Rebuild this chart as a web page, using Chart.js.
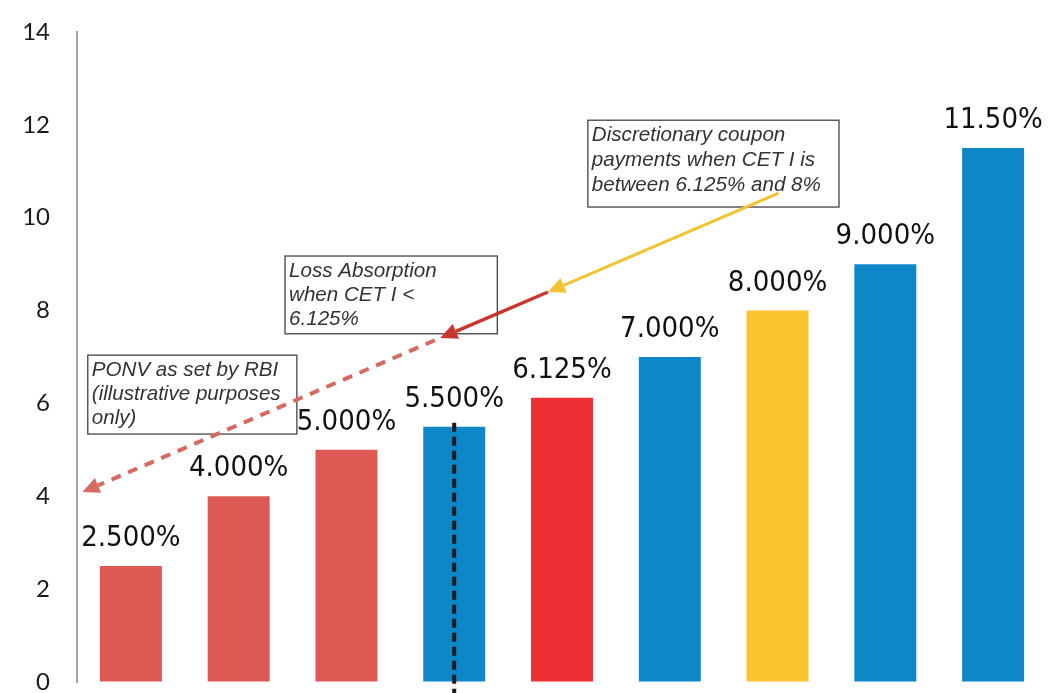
<!DOCTYPE html>
<html><head><meta charset="utf-8">
<script src="https://cdn.jsdelivr.net/npm/chart.js@4/dist/chart.umd.min.js"></script>
<style>html,body{margin:0;padding:0;background:#fff;overflow:hidden}#wrap{width:1052px;height:693px;position:relative}</style>
</head><body><div id="wrap"><canvas id="c" width="1052" height="693"></canvas></div>
<script>
// ---- data ----
const categories = ['B1','B2','B3','B4','B5','B6','B7','B8','B9'];
const values = [2.5, 4, 5, 5.5, 6.125, 7, 8, 9, 11.5];
const valueLabels = ['2.500%','4.000%','5.000%','5.500%','6.125%','7.000%','8.000%','9.000%','11.50%'];
const yTicks = [0, 2, 4, 6, 8, 10, 12, 14];
const noteTexts = [
  ['Discretionary coupon','payments when CET I is','between 6.125% and 8%'],
  ['Loss Absorption','when CET I <','6.125%'],
  ['PONV as set by RBI','(illustrative purposes','only)']
];
const markerCategory = 3;

// ---- styles ----
const barColors = ['#DD5954','#DD5954','#DD5954','#0E87C8','#EC3034','#0E87C8','#FAC42E','#0E87C8','#0E87C8'];
const labelFont = '29px "Liberation Sans Narrow", "DejaVu Sans Condensed", Lato, sans-serif';
const noteFont = 'italic 20.6px "Liberation Sans", Arial, sans-serif';
// annotation boxes placed in data space (category index / value)
const noteBoxes = [
  {x1:4.24, y1:12.10, x2:6.57, y2:10.23, lh:25},
  {x1:1.43, y1:9.175, x2:3.40, y2:7.50, lh:24},
  {x1:-0.40, y1:7.04, x2:1.54, y2:5.34, lh:24}
];
const arrows = [
  {from:[6.01,10.53], to:[3.87,8.40], color:'#F2C232', dash:null, width:3},
  {from:[3.87,8.40], to:[2.87,7.41], color:'#C8362D', dash:null, width:3.5},
  {from:[2.82,7.36], to:[-0.45,4.09], color:'#D66A60', dash:[10,8], width:4}
];

const overlay = {
  id:'overlay',
  afterDatasetsDraw(chart){
    const ctx = chart.ctx, xs = chart.scales.x, ys = chart.scales.y;
    const meta = chart.getDatasetMeta(0);
    ctx.save();
    ctx.fillStyle = '#111';
    ctx.font = labelFont;
    ctx.textAlign = 'center';
    ctx.textBaseline = 'alphabetic';
    meta.data.forEach((bar,i)=>{
      ctx.fillText(valueLabels[i], bar.x, bar.y - 20);
    });
    const mx = xs.getPixelForValue(markerCategory);
    ctx.strokeStyle = '#1b1b1b';
    ctx.lineWidth = 4;
    ctx.setLineDash([9,5]);
    ctx.beginPath();
    ctx.moveTo(mx, ys.getPixelForValue(values[markerCategory]) - 4);
    ctx.lineTo(mx, chart.height);
    ctx.stroke();
    ctx.setLineDash([]);
    ctx.font = noteFont;
    ctx.textAlign = 'left';
    noteBoxes.forEach((b,i)=>{
      const x1 = xs.getPixelForValue(b.x1), x2 = xs.getPixelForValue(b.x2);
      const y1 = ys.getPixelForValue(b.y1), y2 = ys.getPixelForValue(b.y2);
      ctx.strokeStyle = '#444';
      ctx.lineWidth = 1.3;
      ctx.strokeRect(x1, y1, x2-x1, y2-y1);
      ctx.fillStyle = '#333';
      noteTexts[i].forEach((t,j)=>ctx.fillText(t, x1+4, y1 + 21 + j*b.lh));
    });
    arrows.forEach(a=>{
      const x0 = xs.getPixelForValue(a.from[0]), y0 = ys.getPixelForValue(a.from[1]);
      const x1 = xs.getPixelForValue(a.to[0]), y1 = ys.getPixelForValue(a.to[1]);
      const ang = Math.atan2(y1-y0, x1-x0);
      const hl = 17, hw = 8;
      const bx = x1 - hl*Math.cos(ang), by = y1 - hl*Math.sin(ang);
      ctx.strokeStyle = a.color; ctx.fillStyle = a.color;
      ctx.lineWidth = a.width;
      ctx.setLineDash(a.dash || []);
      ctx.beginPath(); ctx.moveTo(x0,y0); ctx.lineTo(bx,by); ctx.stroke();
      ctx.setLineDash([]);
      ctx.beginPath();
      ctx.moveTo(x1,y1);
      ctx.lineTo(bx + hw*Math.sin(ang), by - hw*Math.cos(ang));
      ctx.lineTo(bx - hw*Math.sin(ang), by + hw*Math.cos(ang));
      ctx.closePath(); ctx.fill();
    });
    ctx.restore();
  }
};

new Chart(document.getElementById('c'), {
  type:'bar',
  data:{labels:categories, datasets:[{data:values, backgroundColor:barColors, borderWidth:0,
    categoryPercentage:1, barPercentage:0.575}]},
  options:{
    responsive:false, animation:false,
    layout:{padding:{left:0, right:5, top:32, bottom:11}},
    plugins:{legend:{display:false}, tooltip:{enabled:false}},
    scales:{
      x:{display:false},
      y:{min:0, max:14,
        afterFit(s){ s.width = 77; },
        afterBuildTicks(s){ s.ticks = yTicks.map(v=>({value:v})); },
        grid:{display:true, color:'rgba(0,0,0,0)', drawOnChartArea:false, drawTicks:true, tickLength:27},
        border:{display:true, color:'#a3a3a3', width:2},
        ticks:{padding:0, color:'#1a1a1a', font:{family:'Lato, "Liberation Sans", sans-serif', size:24, lineHeight:0.9}}
      }
    }
  },
  plugins:[overlay]
});
</script></body></html>
